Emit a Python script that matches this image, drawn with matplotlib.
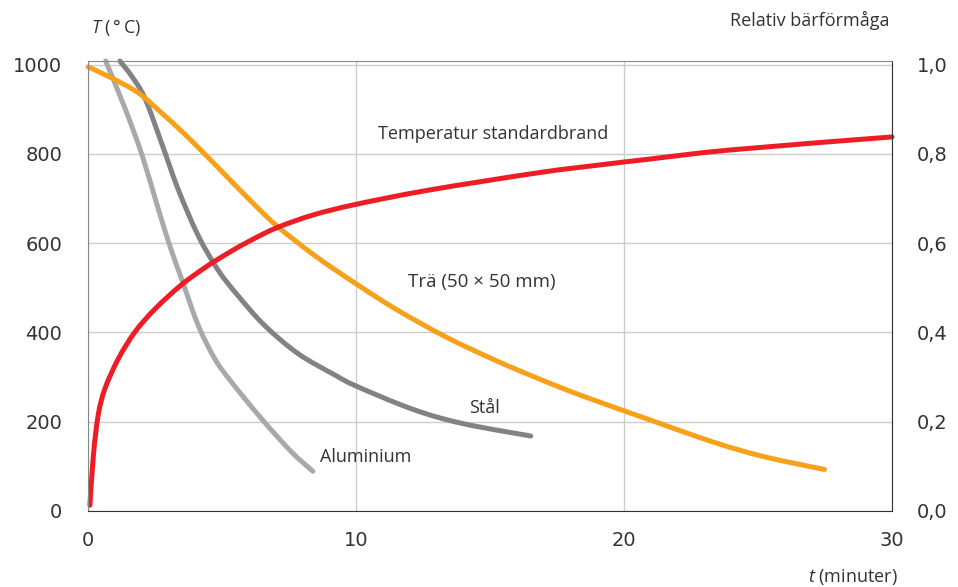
import matplotlib.pyplot as plt
from matplotlib.path import Path
from matplotlib.patches import PathPatch

plt.rcParams['font.family'] = ['Open Sans', 'DejaVu Sans']
plt.rcParams['mathtext.fontset'] = 'custom'
plt.rcParams['mathtext.it'] = 'Open Sans:italic'
plt.rcParams['mathtext.rm'] = 'Open Sans'

# Temperatur standardbrand
t_brand = [0.07, 0.2, 0.38, 0.63, 1.13, 1.75, 2.49, 3.49, 4.48, 5.29, 6.0, 7.02,
           8.39, 10.0, 12.73, 16.83, 19.06, 20.9, 24.0, 30.0]
T_brand = [13, 125, 215, 274, 341, 401, 452, 507, 550, 580, 604, 634,
           663, 687, 719, 758, 775, 788, 809, 838]

# Trä (50 x 50 mm)
t_tra = [0, 0.88, 1.87, 2.74, 3.61, 4.48, 5.1, 5.85, 7.02, 8.51, 10.0, 11.49,
         13.35, 15.22, 16.83, 18.44, 20.92, 23.4, 25.27, 27.48]
T_tra = [995, 970, 937, 892, 844, 792, 754, 708, 640, 570, 509, 452,
         390, 337, 296, 258, 205, 153, 121, 93]

# Stål
t_stal = [1.19, 1.63, 2.12, 2.74, 3.36, 4.11, 4.85, 5.6, 6.6, 7.85, 9.2,
          10.0, 12.11, 13.97, 16.52]
T_stal = [1008, 974, 925, 825, 721, 617, 540, 482, 415, 352, 305,
          280, 228, 196, 168]

# Aluminium
t_alu = [0.66, 1.38, 2.0, 2.49, 2.99, 3.49, 4.11, 4.73, 5.35, 6.47, 7.58, 8.39]
T_alu = [1008, 902, 800, 703, 605, 520, 416, 341, 289, 207, 133, 89]

x_ticks = [0, 10, 20, 30]
y_ticks = [0, 200, 400, 600, 800, 1000]
r_ticks = [0.0, 0.2, 0.4, 0.6, 0.8, 1.0]
r_labels = ['0,0', '0,2', '0,4', '0,6', '0,8', '1,0']


def smooth_curve(ax, x, y, color):
    # Catmull-Rom through the read points, drawn as cubic Bezier segments
    n = len(x)
    verts = [(x[0], y[0])]
    codes = [Path.MOVETO]
    for i in range(n - 1):
        a = max(i - 1, 0)
        d = min(i + 2, n - 1)
        c1 = (x[i] + (x[i + 1] - x[a]) / 6, y[i] + (y[i + 1] - y[a]) / 6)
        c2 = (x[i + 1] - (x[d] - x[i]) / 6, y[i + 1] - (y[d] - y[i]) / 6)
        verts += [c1, c2, (x[i + 1], y[i + 1])]
        codes += [Path.CURVE4] * 3
    patch = PathPatch(Path(verts, codes), fill=False, edgecolor=color, lw=3.6,
                      capstyle='round', joinstyle='round', clip_on=False)
    ax.add_patch(patch)


fig = plt.figure(figsize=(9.58, 5.87), dpi=100)
ax = fig.add_axes([0.0919, 0.1295, 0.8392, 0.7665])

smooth_curve(ax, t_alu, T_alu, '#a7a9ac')
smooth_curve(ax, t_stal, T_stal, '#808285')
smooth_curve(ax, t_tra, T_tra, '#f7a11a')
smooth_curve(ax, t_brand, T_brand, '#ee1c25')

ax.set_xlim(0, 30)
ax.set_ylim(0, 1008)
ax.set_xticks(x_ticks)
ax.set_yticks(y_ticks)
ax.grid(True, color='#cccccc', lw=1)
ax.set_axisbelow(True)
ax.tick_params(length=0, labelsize=14, colors='#333333', pad=18.7)
ax.tick_params(axis='x', pad=14.5)
for lab in ax.get_xticklabels() + ax.get_yticklabels():
    lab.set_family('DejaVu Sans')
for s in ['left', 'top']:
    ax.spines[s].set_color('#888888')
for s in ['right', 'bottom']:
    ax.spines[s].set_color('#333333')

ax2 = ax.twinx()
ax2.set_ylim(0, 1.008)
ax2.set_yticks(r_ticks)
ax2.set_yticklabels(r_labels, family='DejaVu Sans')
ax2.tick_params(length=0, labelsize=14, colors='#333333', pad=18)
for s in ax2.spines.values():
    s.set_visible(False)

txt = dict(fontsize=13, color='#333333')
fig.text(116 / 958, 1 - 28 / 587, '$T$ (\u2009°\u2009C)', ha='center', va='center', **txt)
fig.text(810 / 958, 1 - 20 / 587, 'Relativ bärförmåga', ha='center', va='center', **txt)
fig.text(853 / 958, 1 - 577 / 587, '$t$ (minuter)', ha='center', va='center', **txt)

ax.text(15.1, 845, 'Temperatur standardbrand', ha='center', va='center', **txt)
ax.text(14.7, 512, 'Trä (50 × 50 mm)', ha='center', va='center', fontsize=13.5, color='#333333')
ax.text(14.8, 230, 'Stål', ha='center', va='center', **txt)
ax.text(8.64, 121, 'Aluminium', ha='left', va='center', **txt)

fig.savefig('out.png', dpi=100)
